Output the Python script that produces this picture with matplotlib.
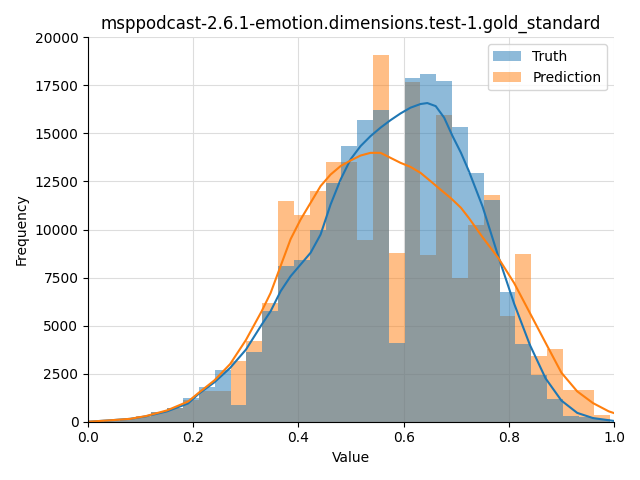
import numpy as np
import matplotlib
matplotlib.use("Agg")
import matplotlib.pyplot as plt

# histogram counts (33 bins between 0 and ~0.993)
truth_counts = [10, 50, 140, 260, 480, 700, 1250, 1820, 2710, 885,
                3610, 5740, 8125, 8390, 9950, 12400, 14320, 15680, 16200, 4115,
                17870, 18070, 17710, 15310, 12920, 11560, 6770, 4060, 2410, 1200,
                310, 240, 140]
pred_counts = [10, 50, 150, 280, 520, 720, 1150, 1620, 1620, 3180,
               4220, 6180, 11460, 10730, 11980, 13520, 13500, 9480, 19060, 8800,
               17660, 8650, 15940, 7500, 10260, 11820, 5490, 8750, 3440, 3790,
               1630, 1670, 350]

# kde curves
truth_kde_x = [0, 0.04, 0.08, 0.11, 0.15, 0.19, 0.21, 0.24, 0.27, 0.30, 0.33,
               0.347, 0.366, 0.385, 0.404, 0.423, 0.442, 0.461, 0.48, 0.499, 0.518,
               0.537, 0.556, 0.575, 0.594, 0.613, 0.632, 0.645, 0.661, 0.677, 0.693,
               0.709, 0.724, 0.75, 0.78, 0.81, 0.84, 0.87, 0.90, 0.93, 0.96, 1.0]
truth_kde_y = [0, 70, 150, 280, 540, 950, 1450, 2050, 2800, 3750, 5050,
               5750, 6790, 7570, 8180, 8790, 9740, 11300, 12600, 13650, 14340,
               14860, 15300, 15690, 16040, 16340, 16530, 16580, 16420, 15820, 14860,
               13990, 13040, 11200, 8600, 6150, 4000, 2250, 1100, 460, 190, 40]
pred_kde_x = [0, 0.04, 0.08, 0.11, 0.15, 0.19, 0.21, 0.24, 0.27, 0.30, 0.33,
              0.347, 0.366, 0.385, 0.404, 0.423, 0.442, 0.461, 0.48, 0.499, 0.518,
              0.537, 0.556, 0.575, 0.594, 0.613, 0.632, 0.651, 0.67, 0.689, 0.709,
              0.724, 0.75, 0.78, 0.81, 0.84, 0.87, 0.90, 0.93, 0.96, 0.99, 1.0]
pred_kde_y = [0, 70, 150, 295, 590, 1050, 1500, 2150, 3000, 4250, 5750,
              6700, 8100, 9500, 10520, 11390, 12260, 12860, 13300, 13590, 13850,
              13990, 13990, 13730, 13470, 13260, 12950, 12520, 12080, 11650, 11130,
              10600, 9600, 8520, 7220, 5660, 4100, 2550, 1580, 970, 540, 450]

title = "msppodcast-2.6.1-emotion.dimensions.test-1.gold_standard"

bin_edges = np.linspace(0.0, 0.993, len(truth_counts) + 1)
widths = np.diff(bin_edges)

fig, ax = plt.subplots(figsize=(6.4, 4.8), dpi=100)
ax.grid(True, color="#dddddd", linewidth=0.8)
ax.set_axisbelow(True)

# prediction first so the truth bars sit on top (grey overlap)
pred_bars = ax.bar(bin_edges[:-1], pred_counts, width=widths, align="edge",
                   color="C1", alpha=0.5, linewidth=0, label="Prediction")
truth_bars = ax.bar(bin_edges[:-1], truth_counts, width=widths, align="edge",
                    color="C0", alpha=0.5, linewidth=0, label="Truth")
ax.plot(truth_kde_x, truth_kde_y, color="C0", linewidth=1.5)
ax.plot(pred_kde_x, pred_kde_y, color="C1", linewidth=1.5)

ax.set_xlim(0, 1)
ax.set_ylim(0, 20000)
ax.set_yticks(np.arange(0, 20001, 2500))
ax.set_xlabel("Value")
ax.set_ylabel("Frequency")
ax.set_title(title)
ax.spines["top"].set_visible(False)
ax.spines["right"].set_visible(False)
ax.legend(handles=[truth_bars, pred_bars], loc="upper right")

fig.tight_layout()
fig.savefig("out.png")
